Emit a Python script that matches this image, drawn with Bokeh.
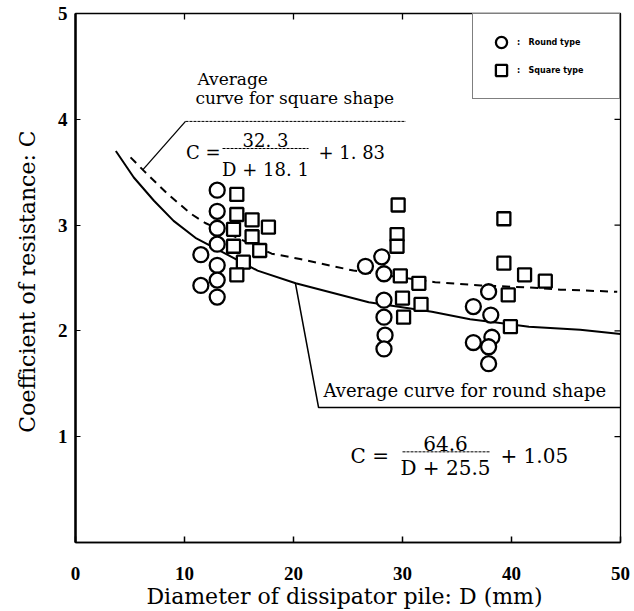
import math
from bokeh.plotting import figure
from bokeh.models import Range1d, FixedTicker, Label, Legend, LegendItem
from bokeh.embed import file_html
from bokeh.resources import INLINE

# ---------------- data ----------------
round_D = [13.0, 13.0, 13.0, 13.0, 11.5, 13.0, 13.0, 11.5, 13.0,
           26.6, 28.1, 28.3, 28.3, 28.3, 28.4, 28.3,
           37.9, 36.5, 38.1, 38.2, 36.5, 37.9, 37.9]
round_C = [3.33, 3.13, 2.97, 2.82, 2.72, 2.62, 2.48, 2.43, 2.32,
           2.61, 2.70, 2.54, 2.29, 2.13, 1.96, 1.83,
           2.37, 2.23, 2.15, 1.94, 1.89, 1.85, 1.69]

square_D = [14.8, 14.8, 16.2, 17.7, 14.5, 16.2, 14.5, 16.9, 15.4, 14.8,
            29.6, 29.5, 29.5, 29.8, 31.5, 30.0, 31.7, 30.1,
            39.3, 39.3, 41.2, 43.1, 39.7, 39.9]
square_C = [3.29, 3.10, 3.05, 2.98, 2.96, 2.89, 2.80, 2.76, 2.65, 2.53,
            3.19, 2.91, 2.80, 2.52, 2.45, 2.31, 2.25, 2.13,
            3.06, 2.64, 2.53, 2.47, 2.34, 2.04]

# average curves as drawn in the reference
curve_square_D = [5.05, 6.3, 8.4, 10.55, 11.9, 18.0, 20.6, 25.5, 33.0, 37.2, 41.7, 44.5, 49.7]
curve_square_C = [3.64, 3.51, 3.30, 3.11, 3.02, 2.73, 2.68, 2.57, 2.46, 2.43, 2.41, 2.39, 2.37]
curve_round_D = [3.7, 5.35, 7.2, 9.0, 11.0, 16.7, 20.2, 26.9, 32.7, 36.2, 41.6, 46.3, 50.0]
curve_round_C = [3.70, 3.45, 3.23, 3.04, 2.88, 2.57, 2.45, 2.27, 2.18, 2.11, 2.04, 2.01, 1.97]

x_ticks = [0, 10, 20, 30, 40, 50]
y_ticks = [1, 2, 3, 4, 5]
x_inner_ticks = [10, 20, 30, 40]
y_inner_ticks = [1, 2, 3, 4]

x_label = "Diameter of dissipator pile:  D (mm)"
y_label = "Coefficient of resistance:  C"

# annotation geometry (data units)
sq_leader_x = [6.15, 10.09, 30.3]
sq_leader_y = [3.52, 3.98, 3.98]
rd_leader_x = [20.18, 22.3, 50.0]
rd_leader_y = [2.448, 1.276, 1.276]
frac1_x = [13.49, 21.38]
frac1_y = [3.724, 3.724]
frac2_x = [30.0, 38.07]
frac2_y = [0.857, 0.857]

SERIF = "DejaVu Serif"
X_MIN, X_MAX, Y_MIN, Y_MAX = 0, 50, 0, 5

p = figure(frame_width=545, frame_height=529,
           min_border_left=75, min_border_right=14, min_border_top=13, min_border_bottom=69,
           x_range=Range1d(X_MIN, X_MAX), y_range=Range1d(Y_MIN, Y_MAX),
           x_axis_label=x_label, y_axis_label=y_label,
           output_backend="svg", toolbar_location=None)
p.grid.visible = False
p.outline_line_color = "black"
p.outline_line_width = 1.3
p.background_fill_color = "white"
p.border_fill_color = "white"

# bottom axis
xa = p.xaxis[0]
xa.ticker = FixedTicker(ticks=x_ticks)
xa.major_tick_in = 6
xa.major_tick_out = 0
xa.minor_tick_in = 0
xa.minor_tick_out = 0
xa.major_label_standoff = 24
xa.axis_label_standoff = 1
xa.axis_line_width = 1.5
xa.major_tick_line_width = 1.5
xa.major_label_text_font = "Liberation Serif"
xa.major_label_text_font_style = "bold"
xa.major_label_text_font_size = "19px"
xa.major_label_text_color = "black"
xa.axis_label_text_font = SERIF
xa.axis_label_text_font_style = "normal"
xa.axis_label_text_font_size = "22px"
xa.axis_label_text_color = "black"

# left axis
ya = p.yaxis[0]
ya.ticker = FixedTicker(ticks=y_ticks)
ya.major_tick_in = 5
ya.major_tick_out = 0
ya.minor_tick_in = 0
ya.minor_tick_out = 0
ya.major_label_standoff = 8
ya.axis_label_standoff = 15
ya.axis_line_width = 2.5
ya.major_label_text_font = "Liberation Serif"
ya.major_label_text_font_style = "bold"
ya.major_label_text_font_size = "19px"
ya.major_label_text_color = "black"
ya.axis_label_text_font = SERIF
ya.axis_label_text_font_style = "normal"
ya.axis_label_text_font_size = "22px"
ya.axis_label_text_color = "black"

# inward tick marks on the top and right edges (screen-sized dashes, clipped to frame)
p.scatter(x_inner_ticks, [Y_MAX] * len(x_inner_ticks), marker="dash", size=12,
          angle=math.pi / 2, line_color="black", line_width=1.3)
p.scatter([X_MAX] * len(y_inner_ticks), y_inner_ticks, marker="dash", size=12,
          line_color="black", line_width=1.3)

# curves
p.line(curve_square_D, curve_square_C, line_color="black", line_width=2, line_dash="8 6")
p.line(curve_round_D, curve_round_C, line_color="black", line_width=2)

# annotation lines
p.line(sq_leader_x[:2], sq_leader_y[:2], line_color="black", line_width=1.3)
p.line(sq_leader_x[1:], sq_leader_y[1:], line_color="black", line_width=1, line_dash="3 1")
p.line(rd_leader_x, rd_leader_y, line_color="black", line_width=1.5)
p.line(frac1_x, frac1_y, line_color="black", line_width=1, line_dash="3 1")
p.line(frac2_x, frac2_y, line_color="black", line_width=1, line_dash="3 1")

# points
r_round = p.scatter(round_D, round_C, marker="circle", size=15, line_color="black",
                    line_width=2.3, fill_color="white")
r_square = p.scatter(square_D, square_C, marker="square", size=13, line_color="black",
                     line_width=2.3, fill_color="white")

legend = Legend(items=[LegendItem(label=":   Round type", renderers=[r_round]),
                       LegendItem(label=":   Square type", renderers=[r_square])],
                location="top_right", margin=0, padding=14, spacing=0,
                glyph_width=28, glyph_height=28, label_standoff=2, label_width=88,
                label_text_font="DejaVu Sans", label_text_font_style="bold",
                label_text_font_size="8px", label_text_color="black",
                border_line_color="black", border_line_width=1.5,
                background_fill_color="white", background_fill_alpha=1.0)
p.add_layout(legend)

def lab(x, y, text, align="left", size="18px", font=SERIF):
    p.add_layout(Label(x=x, y=y, text=text, text_align=align, text_baseline="middle",
                       text_font=font, text_font_size=size, text_color="black"))

lab(11.19, 4.38, "Average", size="17px")
lab(11.0, 4.20, "curve for square shape", size="17px")
lab(13.3, 3.686, "C =", align="right")
lab(17.43, 3.80, "32. 3", align="center")
lab(17.43, 3.53, "D + 18. 1", align="center")
lab(22.29, 3.686, "+ 1. 83")

lab(22.75, 1.44, "Average curve for round shape", size="18px")
lab(25.23, 0.819, "C =", size="20px")
lab(33.94, 0.935, "64.6", align="center", size="20px")
lab(33.94, 0.705, "D + 25.5", align="center", size="20px")
lab(38.99, 0.819, "+ 1.05", size="20px")

open("out.html", "w").write(file_html(p, INLINE))
